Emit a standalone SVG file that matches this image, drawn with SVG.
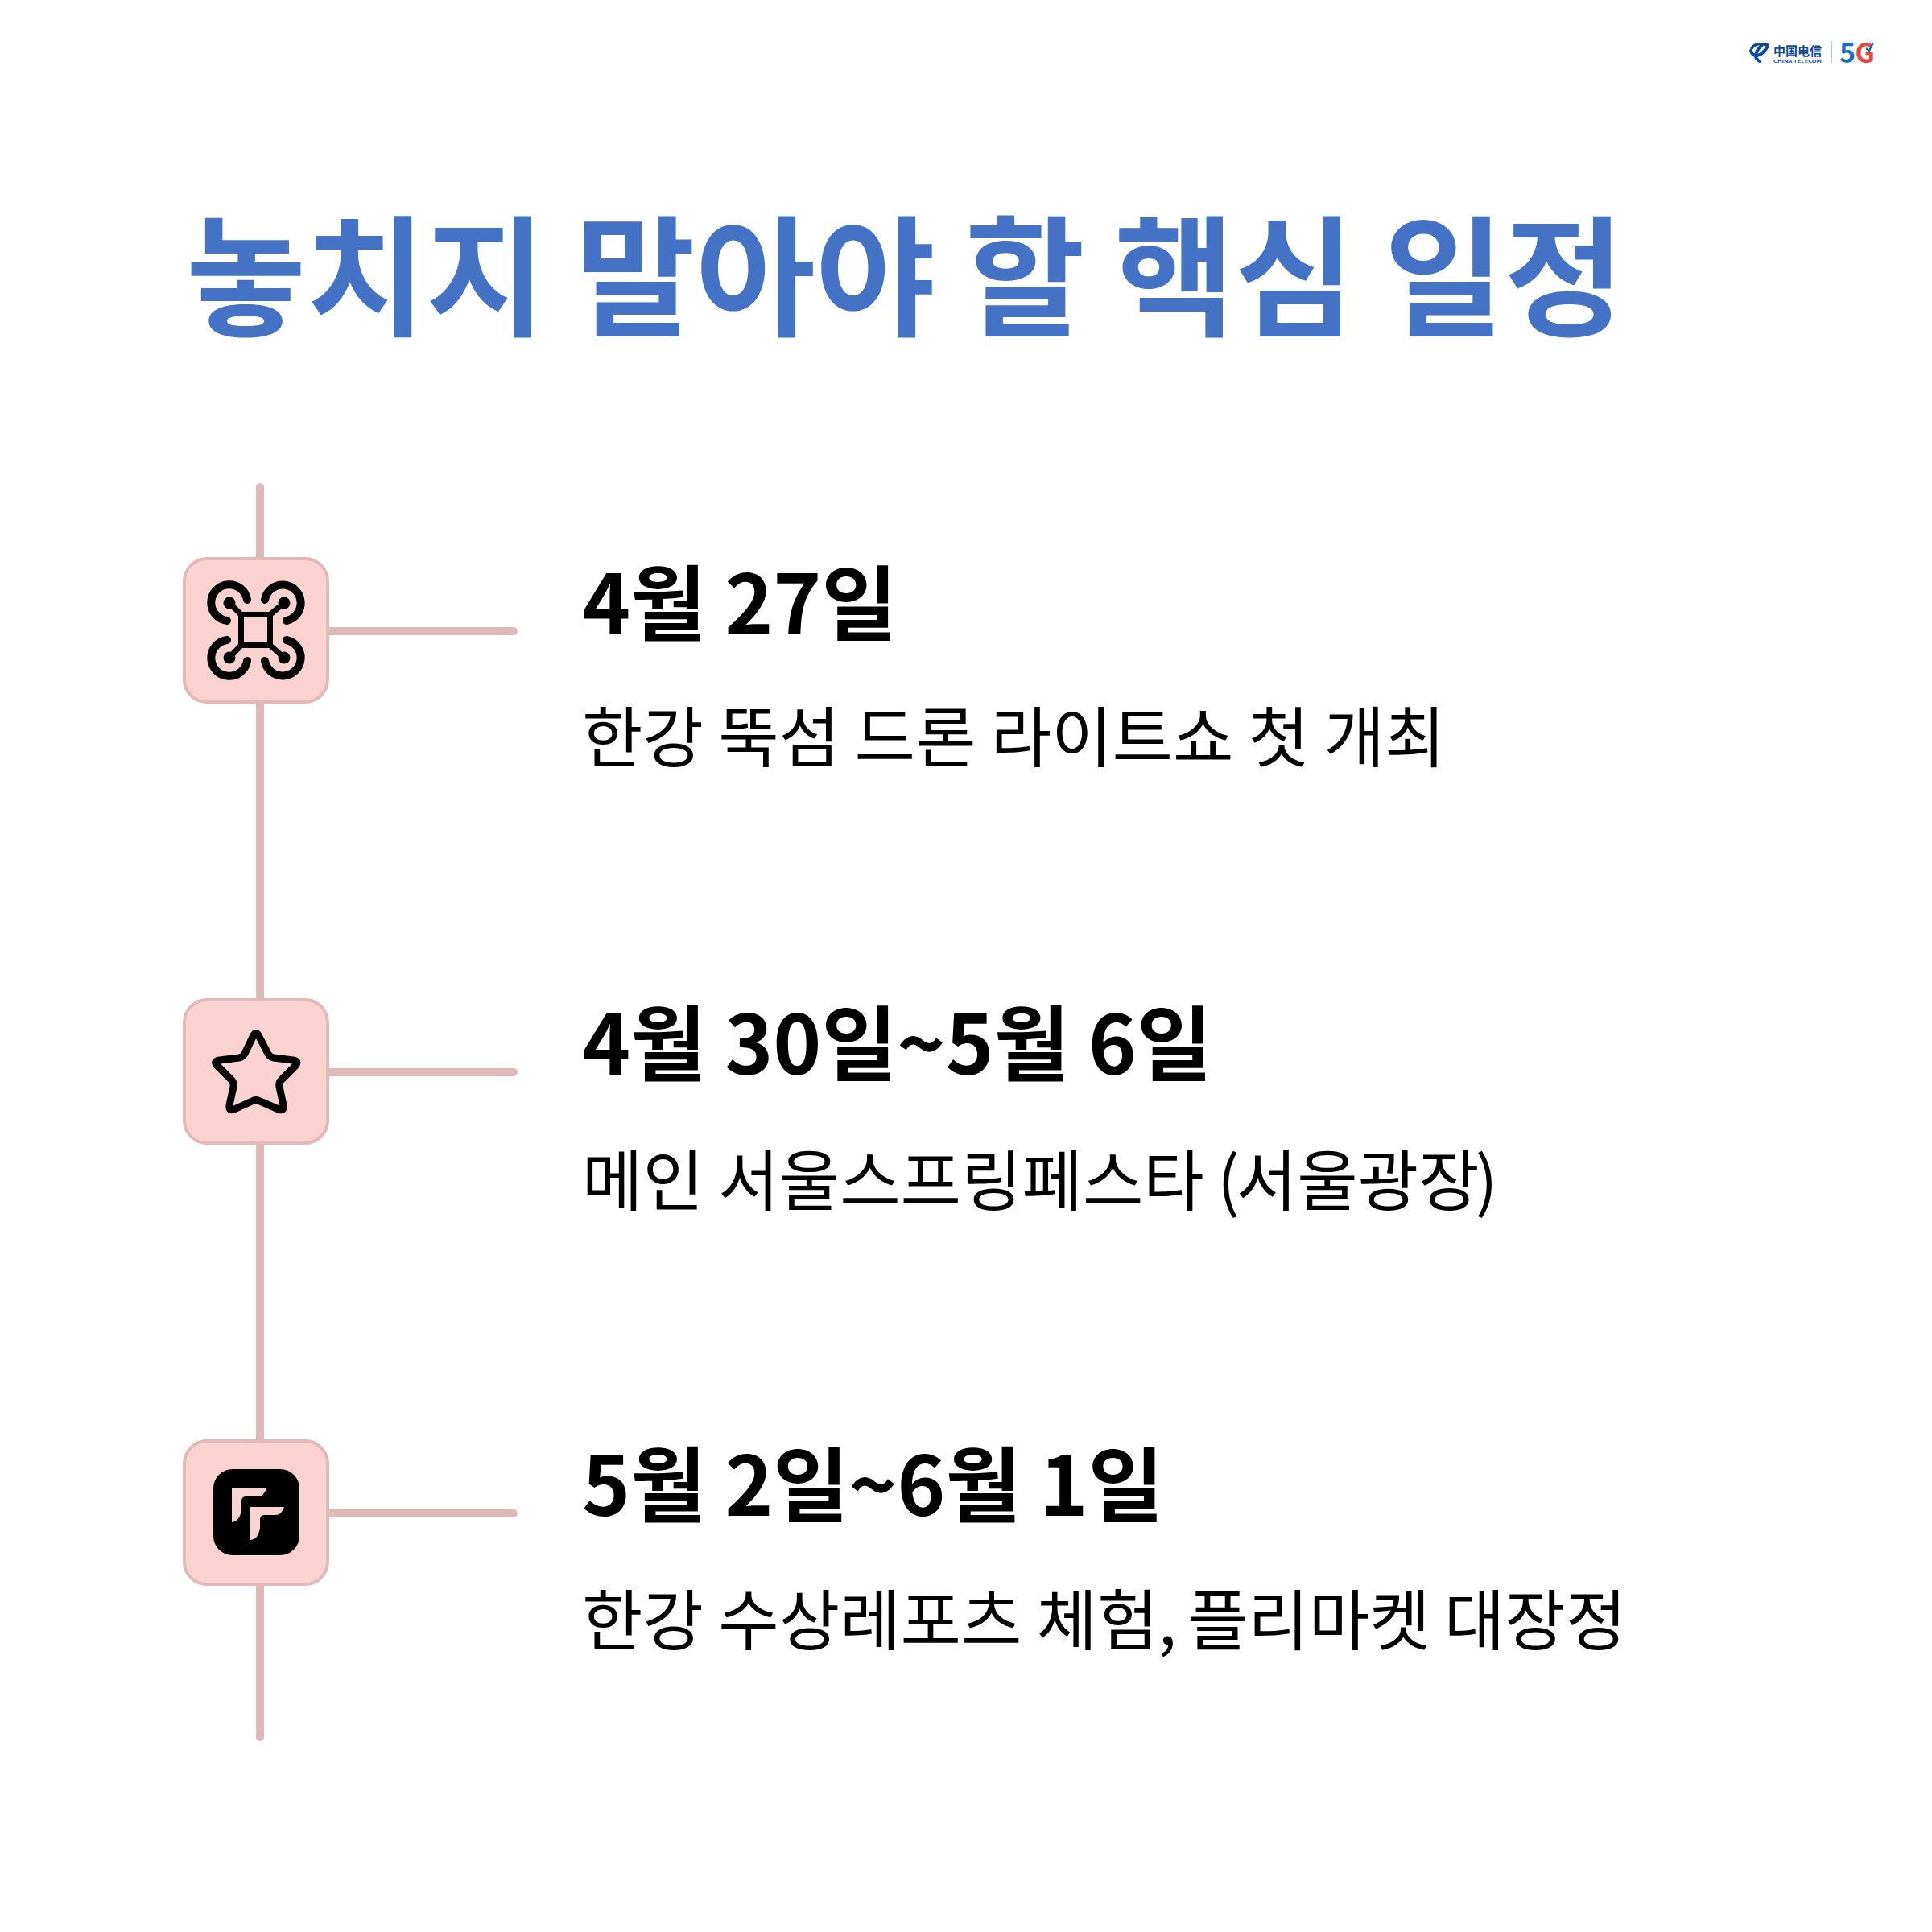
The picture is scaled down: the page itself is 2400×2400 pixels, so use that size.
<svg xmlns="http://www.w3.org/2000/svg" width="2400" height="2400" viewBox="0 0 2400 2400">
<style>
text{font-family:"Noto Sans CJK KR","Noto Sans",sans-serif}
.t{font-size:162px;font-weight:700;fill:#4472c4}
.h{font-size:102px;font-weight:700;fill:#000}
.s{font-size:82px;font-weight:400;fill:#000}
.l{stroke:#e0b8b8;stroke-width:10;stroke-linecap:round;fill:none}
.b{fill:#fad2d0;stroke:#e2b9b8;stroke-width:4}
.i{fill:none;stroke:#000;stroke-width:10;stroke-linecap:round;stroke-linejoin:round}
.c{fill:#0d4a9f;font-weight:700}
.sw{fill:none;stroke:#0d4a9f;stroke-linecap:round}
</style>
<rect width="2400" height="2400" fill="#fff"/>
<text class="t" x="231" y="405">놓치지 말아야 할 핵심 일정</text>
<g id="connectors">
<path class="l" d="M323 605V2158"/>
<path class="l" d="M408 784H638M408 1332H638M408 1880H638"/>
</g>
<g id="node-1">
<rect class="b" x="229" y="694" width="178" height="178" rx="28"/>
<g class="i">
<rect x="299.500" y="763.500" width="36" height="38" stroke-width="7"/>
<path d="M299 763L285 749M336 763L353 749M299 802L285 817M336 802L353 817" stroke-width="7"/>
<path d="M307 745A22.500 22.500 0 1 0 282 771M329 745A22.500 22.500 0 1 1 356 771M282 795A22.500 22.500 0 1 0 307 821M356 795A22.500 22.500 0 1 1 329 821"/>
</g>
<circle cx="285" cy="749" r="7.500"/><circle cx="353" cy="749" r="7.500"/><circle cx="285" cy="817" r="7.500"/><circle cx="353" cy="817" r="7.500"/>
<text class="h" x="723" y="788">4월 27일</text>
<text class="s" x="723" y="946">한강 뚝섬 드론 라이트쇼 첫 개최</text>
</g>
<g id="node-2">
<rect class="b" x="229" y="1242" width="178" height="178" rx="28"/>
<path class="i" style="stroke-width:9" d="M314 1288Q318 1279 322 1288L333 1309Q335 1313 340 1314L364 1317Q372 1318 367 1324L349 1342Q346 1345 347 1350L352 1373Q353 1381 346 1378L323 1368Q318 1365 313 1368L291 1378Q284 1381 285 1373L290 1350Q291 1345 288 1342L270 1324Q264 1318 273 1317L297 1314Q302 1313 304 1309Z"/>
<text class="h" x="723" y="1335">4월 30일~5월 6일</text>
<text class="s" x="723" y="1497">메인 서울스프링페스타 <tspan dx="-2">(</tspan><tspan dx="-4">서울광장</tspan><tspan dx="-5">)</tspan></text>
</g>
<g id="node-3">
<rect class="b" x="229" y="1790" width="178" height="178" rx="28"/>
<rect x="265" y="1825" width="107" height="107" rx="24" fill="#000"/>
<path fill="#fad2d0" d="M288 1849H331Q328 1859 320 1859H305Q300 1859 300 1865V1875Q298 1890 288 1891ZM311 1872H353Q350 1882 342 1882H328Q323 1882 323 1888V1898Q321 1912 311 1913Z"/>
<text class="h" x="723" y="1883">5월 2일~6월 1일</text>
<text class="s" x="723" y="2043">한강 수상레포츠 체험, <tspan dx="-5">플리마켓</tspan> <tspan dx="-1">대장정</tspan></text>
</g>
<g id="logo">
<path class="sw" stroke-width="4" d="M2175 63Q2177 70 2183 69Q2191 67 2196 57"/>
<path class="sw" stroke-width="3.500" d="M2176 60Q2180 54 2189 55Q2194 55 2196 56"/>
<path class="sw" stroke-width="4" d="M2188 57Q2182 62 2181 69Q2181 74 2186 76"/>
<text class="c" x="2203" y="69" font-size="15">中国电信</text>
<text class="c" x="2203" y="78" font-size="5" textLength="60" lengthAdjust="spacingAndGlyphs">CHINA TELECOM</text>
<path d="M2275 51V78" stroke="#9fb6d0" stroke-width="1.500"/>
<text x="2285" y="78" font-size="34" font-weight="700" fill="#1d6fb8">5</text>
<text x="2304.500" y="78" font-size="34" font-weight="700" fill="#e8453c">G</text>
<path d="M2318 60L2322 63L2327 53" fill="none" stroke="#1d6fb8" stroke-width="2.500"/>
</g>
</svg>
